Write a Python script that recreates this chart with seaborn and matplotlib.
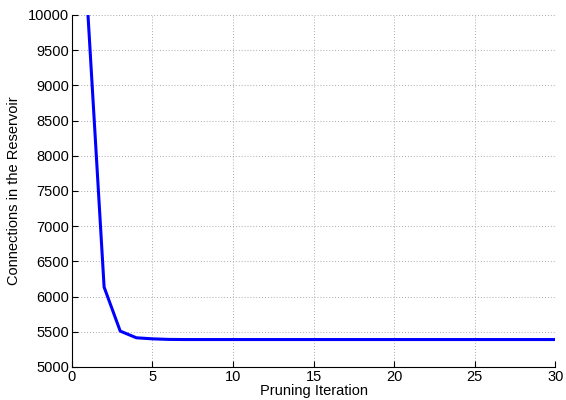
import matplotlib
matplotlib.use("Agg")
import matplotlib.pyplot as plt
import seaborn as sns
import pandas as pd

iterations = list(range(1, 31))
connections = [10000, 6135, 5510, 5415, 5400, 5392] + [5390] * 24

sns.set_style("white")
plt.rcParams['font.family'] = ['Liberation Sans', 'DejaVu Sans']
plt.rcParams['text.color'] = 'black'
plt.rcParams['axes.labelcolor'] = 'black'
plt.rcParams['xtick.color'] = 'black'
plt.rcParams['ytick.color'] = 'black'

df = pd.DataFrame({"iter": iterations, "conn": connections})

fig = plt.figure(figsize=(5.66, 4.0), dpi=100)
ax = fig.add_axes([0.127, 0.0825, 0.854, 0.88])
sns.lineplot(data=df, x="iter", y="conn", ax=ax, color="#0000ff", linewidth=2.2)

ax.set_xlim(0, 30)
ax.set_ylim(5000, 10000)
ax.set_xticks(range(0, 31, 5))
ax.set_yticks(range(5000, 10001, 500))
ax.grid(True, linestyle=(0, (1, 2)), color="#aaaaaa", linewidth=0.7)
ax.tick_params(direction="in", length=4, labelsize=10.5, colors="black", width=0.8, pad=2,
               bottom=True, left=True)
for s in ["top", "right"]:
    ax.spines[s].set_visible(False)
for s in ["left", "bottom"]:
    ax.spines[s].set_color("black")
    ax.spines[s].set_linewidth(0.8)
ax.set_xlabel("Pruning Iteration", fontsize=10.5, labelpad=0, color="black")
ax.set_ylabel("Connections in the Reservoir", fontsize=10.5, labelpad=5, color="black")
fig.savefig("out.png", dpi=100)
